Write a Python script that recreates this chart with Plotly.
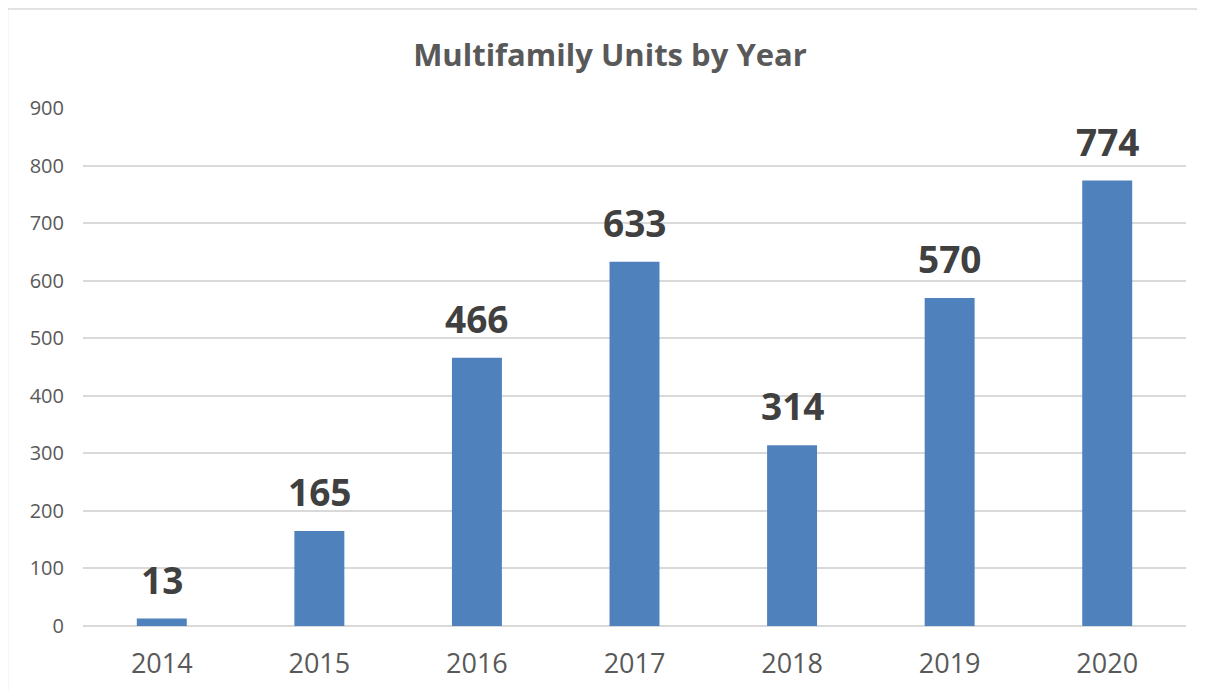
import plotly.graph_objects as go

years = [2014, 2015, 2016, 2017, 2018, 2019, 2020]
units = [13, 165, 466, 633, 314, 570, 774]
y_ticks = [0, 100, 200, 300, 400, 500, 600, 700, 800, 900]

# page body has an 8px margin; figure is sized to fit inside the window
OFF = 8
W, H = 1205 - 2 * OFF, 698 - 2 * OFF
L, R, T, B = 83 - OFF, 1186 - OFF, 108 - OFF, 626 - OFF
PW, PH = R - L, B - T

fig = go.Figure()
fig.add_trace(go.Bar(
    x=years, y=units,
    marker=dict(color="#4F81BD", line=dict(width=0)),
    width=0.317,
    hoverinfo="x+y",
))

for yr, v in zip(years, units):
    fig.add_annotation(
        x=yr, y=v, text=str(v), showarrow=False,
        yanchor="bottom", yshift=12,
        font=dict(family="Open Sans", size=37, color="#404040", weight="bold"),
    )

bx = (7.5 - OFF - L) / PW
by = (B - (9 - OFF)) / PH

fig.update_layout(
    width=W, height=H,
    margin=dict(l=L, r=W - R, t=T, b=H - B, autoexpand=False),
    paper_bgcolor="white", plot_bgcolor="white",
    showlegend=False,
    title=dict(
        text="<b>Multifamily Units by Year</b>",
        x=(610 - OFF) / W, xref="container", xanchor="center",
        y=1 - (55 - OFF) / H, yref="container", yanchor="middle",
        font=dict(family="Open Sans", size=31, color="#595959"),
    ),
    xaxis=dict(
        range=[2013.5, 2020.5], tickvals=years, ticktext=[str(y) for y in years],
        showgrid=False, showline=False, ticks="", zeroline=False,
        tickfont=dict(family="Open Sans", size=27, color="#595959"),
        ticklabelstandoff=19, automargin=False,
    ),
    yaxis=dict(
        range=[0, 900], tickvals=y_ticks,
        showgrid=True, gridcolor="#D9D9D9", gridwidth=1.5,
        zeroline=True, zerolinecolor="#D9D9D9", zerolinewidth=1.5,
        showline=False, ticks="",
        tickfont=dict(family="Open Sans", size=20, color="#595959"),
        ticklabelstandoff=18, automargin=False,
    ),
    shapes=[
        dict(type="line", xref="paper", yref="paper",
             x0=bx, x1=1.1, y0=by, y1=by,
             line=dict(color="#D9D9D9", width=1.5)),
        dict(type="line", xref="paper", yref="paper",
             x0=bx, x1=bx, y0=-0.3, y1=by,
             line=dict(color="#D9D9D9", width=1.5)),
    ],
)

fig.write_html("out.html")
